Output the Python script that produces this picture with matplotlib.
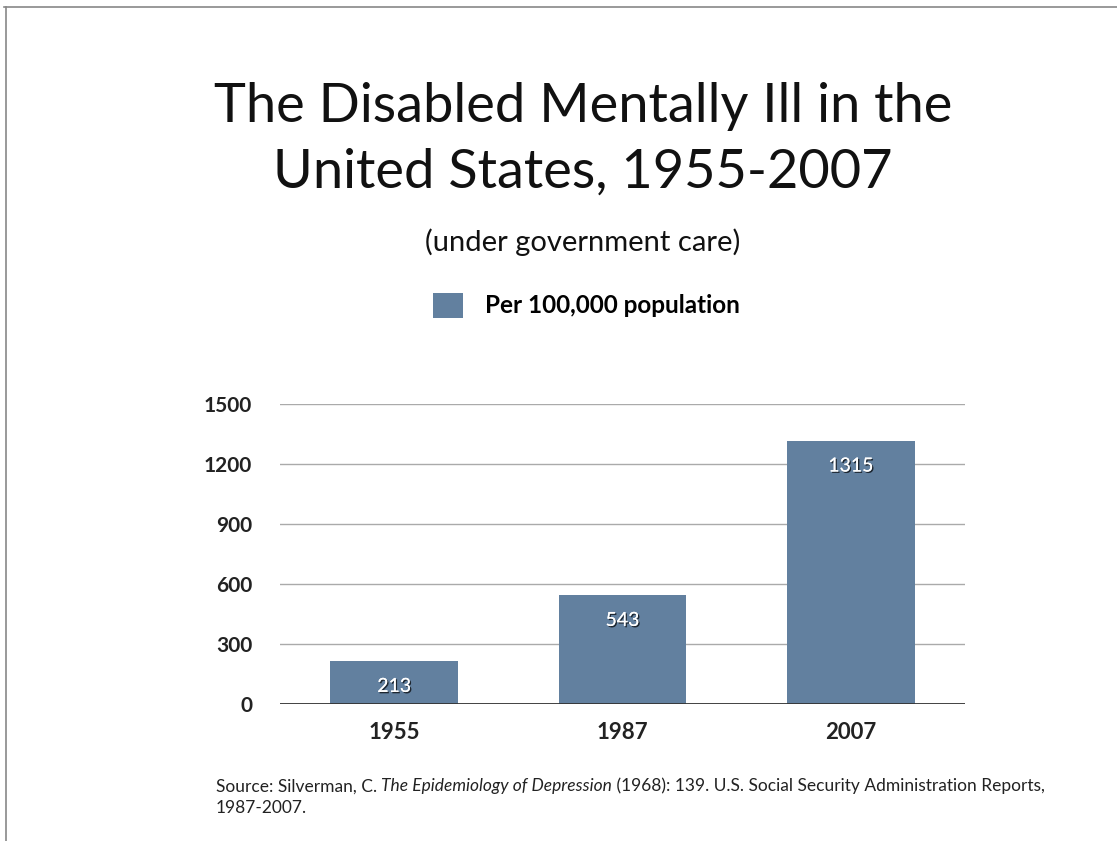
import matplotlib
matplotlib.use("Agg")
import matplotlib.pyplot as plt
import matplotlib.patheffects as pe
from matplotlib.lines import Line2D

# data
years = ["1955", "1987", "2007"]
per_100k = [213, 543, 1315]
yticks = [0, 300, 600, 900, 1200, 1500]
ytick_labels = ["0", "300", "600", "900", "1200", "1500"]

bar_color = "#62809f"
plt.rcParams["font.family"] = ["Lato", "DejaVu Sans"]

fig = plt.figure(figsize=(11.17, 8.41), dpi=100)
fig.patch.set_facecolor("white")

# slide frame (top and left edges)
fig.add_artist(Line2D([0.004, 1.0], [0.992, 0.992], color="#888888", lw=1.2))
fig.add_artist(Line2D([0.005, 0.005], [0.0, 0.992], color="#888888", lw=1.2))

# titles
fig.text(0.522, 0.873, "The Disabled Mentally Ill in the", ha="center", va="center",
         fontsize=39, color="#111111")
fig.text(0.522, 0.795, "United States, 1955-2007", ha="center", va="center",
         fontsize=39, color="#111111")
fig.text(0.522, 0.712, "(under government care)", ha="center", va="center",
         fontsize=21, color="#111111")

ax = fig.add_axes([0.2507, 0.1629, 0.6133, 0.3567])
x = range(len(years))
bars = ax.bar(x, per_100k, width=0.56, color=bar_color, zorder=2,
              label="Per 100,000 population")
ax.set_xlim(-0.5, 2.5)
ax.set_ylim(0, 1500)
ax.set_yticks(yticks)
ax.set_yticklabels(ytick_labels, fontsize=15, fontweight="bold", color="#222222")
ax.set_xticks(list(x))
ax.set_xticklabels(years, fontsize=16, fontweight="bold", color="#222222")
ax.tick_params(length=0, pad=20)
ax.tick_params(axis="x", pad=13)
for s in ax.spines.values():
    s.set_visible(False)
for t in yticks[1:]:
    ax.axhline(t, color="#aaaaaa", lw=1.0, zorder=1)
ax.axhline(0, color="#333333", lw=1.3, zorder=3)

for i, v in enumerate(per_100k):
    ax.annotate(str(v), (i, v), xytext=(0, -18), textcoords="offset points",
                ha="center", va="center", fontsize=14, color="white",
                path_effects=[pe.withSimplePatchShadow(offset=(1, -1), shadow_rgbFace="black", alpha=0.7),
                              pe.Normal()])

fig.legend(handles=[bars], loc="center", bbox_to_anchor=(0.525, 0.637), frameon=False,
           handlelength=1.2, handleheight=1.2, handletextpad=0.9,
           prop={"size": 17.5, "weight": "bold"})

# source note with italic book title
fs = 12.5
t1 = fig.text(0.193, 0.059, "Source: Silverman, C. ", fontsize=fs, color="#222222", va="baseline")
t2 = fig.text(0, 0, "The Epidemiology of Depression", fontsize=fs, style="italic",
              color="#222222", va="baseline")
t3 = fig.text(0, 0, " (1968): 139. U.S. Social Security Administration Reports,",
              fontsize=fs, color="#222222", va="baseline")
fig.canvas.draw()
r = fig.canvas.get_renderer()
bb1 = t1.get_window_extent(r)
t2.set_position((bb1.x1 / fig.bbox.width, 0.059))
fig.canvas.draw()
bb2 = t2.get_window_extent(r)
t3.set_position((bb2.x1 / fig.bbox.width, 0.059))
fig.text(0.193, 0.033, "1987-2007.", fontsize=fs, color="#222222", va="baseline")

fig.savefig("out.png", dpi=100, facecolor="white")
